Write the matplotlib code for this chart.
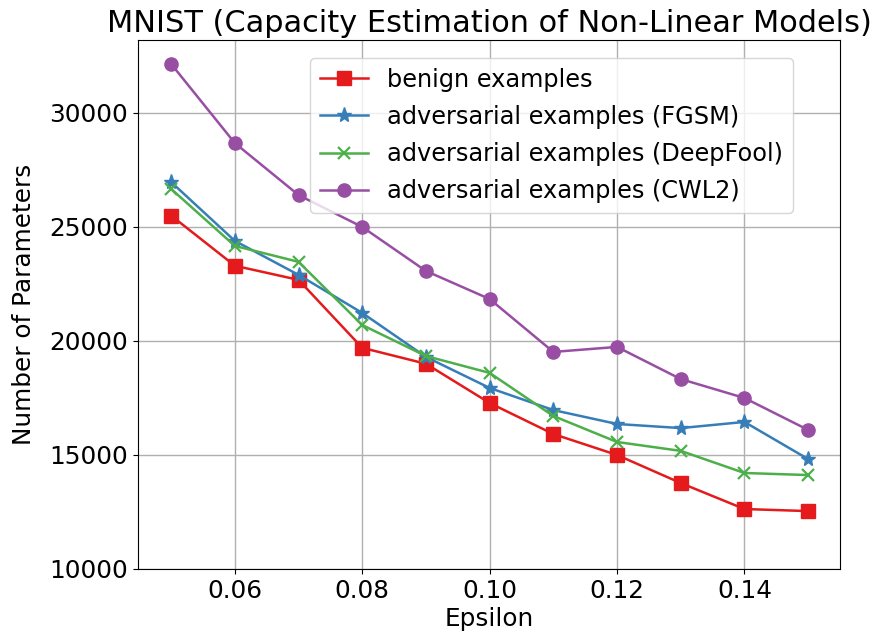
import matplotlib
matplotlib.use("Agg")
import matplotlib.pyplot as plt

epsilon = [0.05, 0.06, 0.07, 0.08, 0.09, 0.10, 0.11, 0.12, 0.13, 0.14, 0.15]
benign = [25500, 23300, 22680, 19700, 19000, 17280, 15920, 15000, 13770, 12630, 12540]
fgsm = [26970, 24390, 22900, 21230, 19300, 17940, 16970, 16360, 16180, 16450, 14820]
deepfool = [26670, 24170, 23470, 20700, 19340, 18600, 16710, 15570, 15180, 14210, 14120]
cwl2 = [32150, 28680, 26400, 25000, 23070, 21840, 19520, 19740, 18330, 17500, 16100]

labels = ["benign examples", "adversarial examples (FGSM)",
          "adversarial examples (DeepFool)", "adversarial examples (CWL2)"]
colors = ["#e41a1c", "#377eb8", "#4daf4a", "#984ea3"]
markers = ["s", "*", "x", "o"]

plt.rcParams['font.family'] = ['DejaVu Sans']

fig = plt.figure(figsize=(8.79, 6.4), dpi=100)
ax = fig.add_axes([138/879, 1 - 569/640, (840-138)/879, (569-40)/640])

sizes = {"s": 9.5, "*": 11, "x": 9, "o": 9.5}
for ys, lab, c, m in zip([benign, fgsm, deepfool, cwl2], labels, colors, markers):
    ax.plot(epsilon, ys, color=c, marker=m, label=lab, linewidth=1.8,
            markersize=sizes[m], markeredgewidth=1.6 if m == "x" else 1)

ax.set_ylim(bottom=10000, top=33200)
ax.set_xlim(0.0448, 0.155)
ax.set_xticks([0.06, 0.08, 0.10, 0.12, 0.14])
ax.set_xticklabels(["0.06", "0.08", "0.10", "0.12", "0.14"])
ax.set_yticks([10000, 15000, 20000, 25000, 30000])
ax.tick_params(labelsize=17.8)
ax.grid(True, color="#b0b0b0", linewidth=1)
ax.set_xlabel("Epsilon", fontsize=17.8, labelpad=3)
ax.set_ylabel("Number of Parameters", fontsize=17.8, labelpad=10)
ax.set_title("MNIST (Capacity Estimation of Non-Linear Models)", fontsize=21.9, pad=6)
ax.legend(loc="upper right", bbox_to_anchor=(0.933, 0.966), fontsize=17.3,
          borderaxespad=0, handlelength=2, labelspacing=0.55)

fig.savefig("out.png", dpi=100)
